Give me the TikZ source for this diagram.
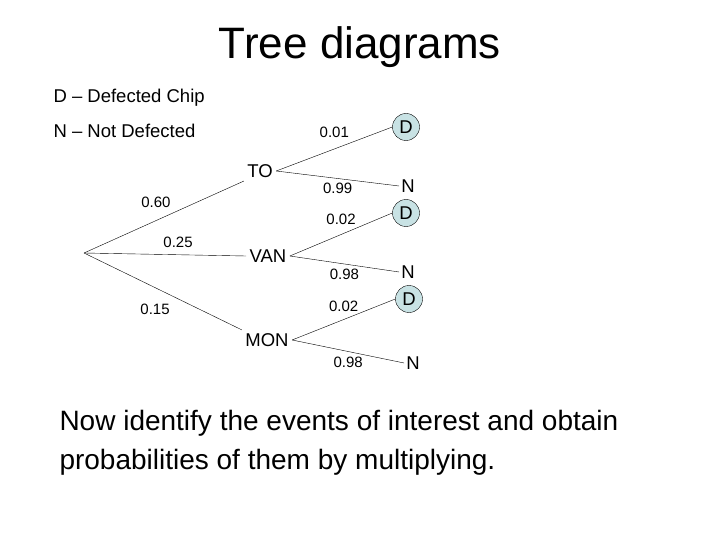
\documentclass[tikz,border=0pt]{standalone}
\usepackage{fontspec}
\setmainfont{Liberation Sans}
\usetikzlibrary{positioning}
\definecolor{chipfill}{RGB}{200,226,228}

\begin{document}
\begin{tikzpicture}[
    x=1pt, y=-1pt,
    every node/.style={font=\fontsize{18.5}{22}\selectfont},
    branch/.style={thin, black},
    prob/.style={font=\fontsize{15}{18}\selectfont},
    chip/.style={circle, draw=black, fill=#1, inner sep=1pt, minimum size=27pt},
    outcome/.style={inner sep=2pt}
]
\useasboundingbox (0,0) rectangle (720,540);

\node (title) at (360,47) {\fontsize{44}{48}\selectfont Tree diagrams};
\node[anchor=west] (legendD) at (50,98) {D -- Defected Chip};
\node[anchor=west] (legendN) at (50,131) {N -- Not Defected};

% Tree
\coordinate (root) at (84,253);
\node (to) at (260,171) {TO};
\node (van) at (268,256) {VAN};
\node (mon) at (267,340) {MON};

\node[chip=chipfill] (d1) at (406,127) {D};
\node[chip=chipfill] (d2) at (406,213) {D};
\node[chip=chipfill] (d3) at (409,299) {D};
\node[outcome] (n1) at (408,186) {N};
\node[outcome] (n2) at (408,272) {N};
\node[outcome] (n3) at (413,363) {N};

\draw[branch] (root) -- (to.south west) node[prob, pos=0.45, above=9pt] {0.60};
\draw[branch] (root) -- (van.west) node[prob, pos=0.58, above=4pt] {0.25};
\draw[branch] (root) -- (mon.north west) node[prob, pos=0.45, below=13pt] {0.15};

\draw[branch] (to.east) -- (d1.west) node[prob, midway, above=8pt] {0.01};
\draw[branch] (to.east) -- (n1.west) node[prob, midway, below=1pt] {0.99};
\draw[branch] (van.east) -- (d2.west) node[prob, midway, above=6pt] {0.02};
\draw[branch] (van.east) -- (n2.west) node[prob, midway, below=1pt] {0.98};
\draw[branch] (mon.east) -- (d3.west) node[prob, midway, above=4pt] {0.02};
\draw[branch] (mon.east) -- (n3.west) node[prob, midway, below=2pt] {0.98};

\node[anchor=west, align=left, font=\fontsize{28}{39}\selectfont] (note) at (56,443)
  {Now identify the events of interest and obtain\\probabilities of them by multiplying.};
\end{tikzpicture}
\end{document}
